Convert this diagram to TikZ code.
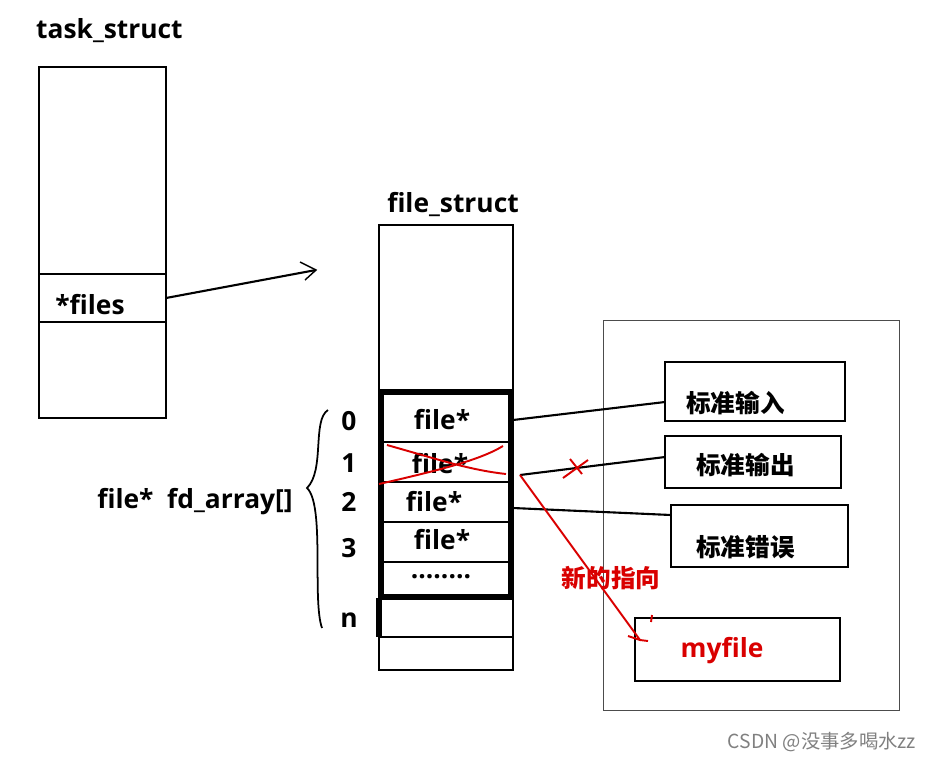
\documentclass[tikz,border=0pt]{standalone}
\usepackage{fontspec}
\setmainfont{Open Sans}
\newfontfamily\cjk{Noto Sans CJK SC}
\usetikzlibrary{arrows.meta}
\begin{document}
\begin{tikzpicture}[x=0.02cm,y=-0.02cm,
  lbl/.style={font=\bfseries\fontsize{15}{17}\selectfont},
  cn/.style={font=\cjk\bfseries\fontsize{14}{16}\selectfont},
  box/.style={draw,line width=1.2pt},
  edit/.style={red!85!black,line width=1.1pt}]
\useasboundingbox (0,0) rectangle (932,761);
% task_struct
\node[lbl,anchor=west] (tslbl) at (30,31) {task\_struct};
\draw[box] (39,67) rectangle (166,418);
\draw[line width=1.2pt] (39,274) -- (166,274) (39,322) -- (166,322);
\node[lbl] (files) at (90,305) {*files};
\coordinate (fs) at (166,298);
\coordinate (fe) at (316,270);
\draw[line width=1.2pt] (fs) -- (fe);
\draw[line width=0.8pt] (300,262) -- (fe) -- (305,280);
% file_struct
\node[lbl] (fslbl) at (453,204) {file\_struct};
\draw[box] (379,225) rectangle (513,670);
\draw[line width=3pt] (381,392) rectangle (511,597);
\foreach \yy in {442,482,522,562} \draw[line width=1.5pt] (381,\yy) -- (511,\yy);
\draw[line width=1.2pt] (379,637) -- (513,637);
\draw[line width=3pt] (379,598) -- (379,637);
\node[lbl] (r0) at (442,420) {file*};
\node[lbl] (r1) at (440,464) {file*};
\node[lbl] (r2) at (434,502) {file*};
\node[lbl] (r3) at (442,540) {file*};
\node[lbl] (rd) at (441,577) {........};
\foreach \t/\yy in {0/421,1/463,2/502,3/548,n/620}
  \node[lbl] (n\t) at (349,\yy) {\t};
\draw[line width=1pt] (328,410) .. controls (312,420) and (325,470) .. (307,488)
  .. controls (325,505) and (312,600) .. (322,628);
\node[lbl] (fd) at (195,502) {file*\ \ fd\_array[]};
% right group
\draw[gray!60!black,line width=0.5pt] (603,320) rectangle (899,710);
\draw[box] (665,362) rectangle (845,421);
\node[cn,anchor=west] (tin) at (680,403) {标准输入};
\draw[box] (665,436) rectangle (841,488);
\node[cn,anchor=west] (tout) at (690,465) {标准输出};
\draw[box] (671,505) rectangle (848,567);
\node[cn,anchor=west] (terr) at (690,547) {标准错误};
\draw[box] (635,618) rectangle (840,681);
\node[lbl,red!85!black] (my) at (722,651) {myfile};
\coordinate (a0) at (513,420); \coordinate (b0) at (665,402);
\coordinate (a1) at (520,475); \coordinate (b1) at (665,457);
\coordinate (a2) at (513,508); \coordinate (b2) at (671,515);
\draw[line width=1.2pt] (a0) -- (b0) (a1) -- (b1) (a2) -- (b2);
% red edits
\coordinate (ra) at (640,640);
\draw[edit] (a1) -- (ra);
\draw[edit] (628,636) -- (ra) -- (648,641) (652,615) -- (651,622);
\draw[edit] (563,478) -- (588,460) (570,459) -- (582,474);
\draw[edit] (387,445) .. controls (440,460) and (470,470) .. (506,474)
  (379,484) .. controls (440,470) and (480,460) .. (503,446);
\node[cn,red!85!black] (new) at (611,578) {新的指向};
\node[gray,font=\cjk\fontsize{11}{13}\selectfont] (wm) at (822,742) {CSDN @没事多喝水zz};
\end{tikzpicture}
\end{document}
